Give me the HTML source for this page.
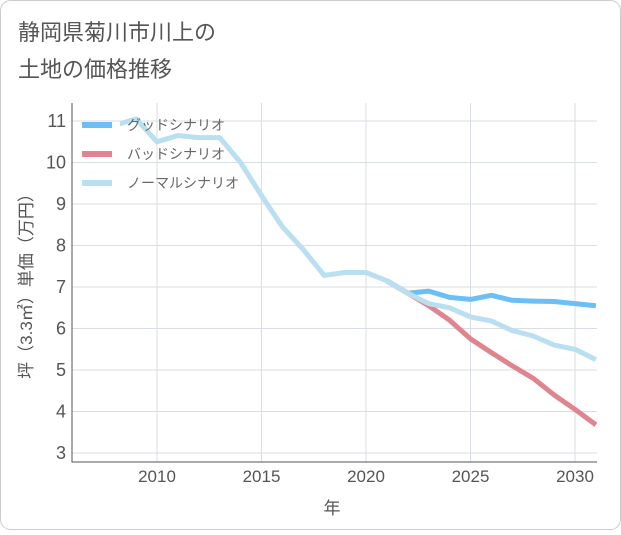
<!DOCTYPE html>
<html><head><meta charset="utf-8"><style>
body{margin:0;background:#fff;}
svg{font-family:"Liberation Sans","Noto Sans CJK JP",sans-serif;}
</style></head><body>
<svg width="621" height="530" viewBox="0 0 621 530">
<rect x="0.5" y="0.5" width="620" height="529" rx="10" fill="#fff" stroke="#ccc"/>
<text x="18" y="40" font-size="22" fill="#555">静岡県菊川市川上の</text>
<text x="18" y="77" font-size="22" fill="#555">土地の価格推移</text>
<g id="grid"></g>
<g id="series"></g>
<g id="legend"></g>
<text x="332" y="514" font-size="17" fill="#555" text-anchor="middle">年</text>
<text transform="translate(32,282) rotate(-90)" font-size="17" fill="#555" text-anchor="middle">坪（3.3㎡）単価（万円）</text>
</svg>
<script>
const years=[2008,2009,2010,2011,2012,2013,2014,2015,2016,2017,2018,2019,2020,2021,2022,2023,2024,2025,2026,2027,2028,2029,2030,2031];
const normal=[10.9,11.05,10.5,10.65,10.6,10.6,10.0,9.2,8.45,7.9,7.28,7.35,7.35,7.15,6.85,6.6,6.5,6.28,6.18,5.95,5.82,5.6,5.5,5.25];
const goodYears=[2021,2022,2023,2024,2025,2026,2027,2028,2029,2030,2031];
const good=[7.15,6.85,6.9,6.75,6.7,6.8,6.68,6.66,6.65,6.6,6.55];
const bad=[7.15,6.85,6.55,6.2,5.75,5.42,5.1,4.8,4.4,4.05,3.68];
const xTicks=[2010,2015,2020,2025,2030];
const yTicks=[3,4,5,6,7,8,9,10,11];
const L=72,R=597,T=103,B=462;
const xs=y=>157+(y-2010)*20.9;
const ys=v=>453-(v-3)*41.5;
const NS="http://www.w3.org/2000/svg";
function mk(t,a,p){const e=document.createElementNS(NS,t);for(const k in a)e.setAttribute(k,a[k]);p.appendChild(e);return e;}
const g=document.getElementById('grid');
yTicks.forEach(v=>{
 const l=mk('line',{x1:L,x2:R,y1:ys(v),y2:ys(v),stroke:'#d8dde6'},g);
 
 
 const t=mk('text',{x:66,y:ys(v)+6,'font-size':18,fill:'#555','text-anchor':'end'},g);t.textContent=v;
 
 
});
xTicks.forEach(v=>{
 const l=mk('line',{x1:xs(v),x2:xs(v),y1:T,y2:B,stroke:'#d8dde6'},g);
 
 
 const t=mk('text',{x:xs(v),y:482,'font-size':17,fill:'#555','text-anchor':'middle'},g);t.textContent=v;
 
 
});
const ax=mk('path',{d:`M${L},${T}V${B}H${R}`,fill:'none',stroke:'#555'},g);


const s=document.getElementById('series');
function line(xv,yv,c,n){
 const d=xv.map((x,i)=>(i?'L':'M')+xs(x).toFixed(1)+','+ys(yv[i]).toFixed(1)).join('');
 const p=mk('path',{d:d,fill:'none',stroke:c,'stroke-width':5,'stroke-linejoin':'round'},s);
 
 
}
const cp=mk('clipPath',{id:'cp'},s);mk('rect',{x:L+48,y:T,width:R-L-48,height:B-T},cp);
s.setAttribute('clip-path','url(#cp)');
line(goodYears,good,'#6cbff5','good-scenario-line');
line(goodYears,bad,'#e0858f','bad-scenario-line');
line(years,normal,'#b9dff0','normal-scenario-line');
const lg=document.getElementById('legend');
[['グッドシナリオ','#6cbff5'],['バッドシナリオ','#e0858f'],['ノーマルシナリオ','#b9dff0']].forEach((e,i)=>{
 const y=125+i*29;
 const r=mk('rect',{x:82,y:y-3,width:30,height:6,fill:e[1]},lg);
 
 
 const t=mk('text',{x:127,y:y+5,'font-size':14,fill:'#666'},lg);t.textContent=e[0];
 
 
});
</script>
</body></html>
